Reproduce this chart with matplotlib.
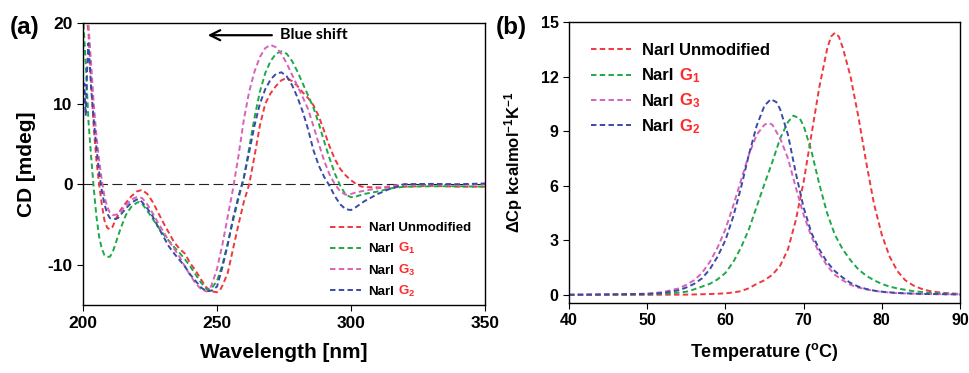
import matplotlib
matplotlib.use('Agg')
import matplotlib.pyplot as plt
from matplotlib.font_manager import FontProperties

plt.rcParams['font.family'] = ['Liberation Sans', 'DejaVu Sans']
plt.rcParams['font.weight'] = 'bold'
plt.rcParams['axes.unicode_minus'] = False
plt.rcParams['mathtext.fontset'] = 'custom'
plt.rcParams['mathtext.rm'] = 'Liberation Sans:bold'
plt.rcParams['mathtext.bf'] = 'Liberation Sans:bold'
plt.rcParams['mathtext.default'] = 'bf'

# (a) CD spectra
wl_red = [200, 201, 202, 203, 204, 205, 206, 207, 208, 209, 210, 211, 212, 214, 216, 218, 220, 222,
          224, 226, 228, 230, 232, 234, 236, 238, 240, 242, 244, 246, 248, 250, 251, 252, 254, 256,
          258, 260, 262, 264, 266, 268, 270, 272, 274, 276, 278, 280, 282, 284, 286, 288, 290, 292,
          294, 296, 298, 300, 302, 304, 306, 310, 315, 320, 330, 340, 350]
cd_red = [24, 22, 19, 13, 7, 3, 0, -2.5, -4.5, -5.4, -5.6, -5.3, -4.5, -3.2, -2.3, -1.5, -0.9, -0.7,
          -1.2, -2.2, -3.5, -4.8, -6.0, -7.2, -8.0, -8.6, -9.8, -10.7, -11.8, -12.8, -13.3, -13.4, -13.2,
          -12.6, -11.0, -8.0, -5.0, -2.2, 0.0, 3.5, 7.3, 10.0, 11.3, 12.2, 12.9, 13.2, 12.8, 12.2, 11.4,
          10.7, 9.8, 8.4, 6.6, 4.7, 3.1, 1.9, 1.1, 0.5, 0.0, -0.3, -0.35, -0.4, -0.4, -0.3, -0.2, -0.3, -0.3]

wl_green = [200, 201, 202, 203, 204, 205, 206, 207, 208, 209, 210, 211, 212, 214, 216, 218, 220, 221,
            222, 224, 226, 228, 230, 232, 234, 236, 238, 240, 242, 244, 246, 247, 248, 250, 252, 254,
            256, 258, 260, 262, 264, 266, 268, 270, 272, 274, 276, 278, 280, 282, 284, 286, 288, 290,
            292, 294, 296, 298, 300, 302, 305, 310, 315, 320, 330, 340, 350]
cd_green = [21, 15, 8, 3.5, -0.5, -4, -6.5, -8, -8.8, -9.0, -9.0, -8.5, -7.5, -5.5, -3.8, -2.8, -2.3,
            -2.2, -2.4, -3.3, -4.3, -5.3, -6.2, -7.0, -7.8, -8.5, -9.3, -10.2, -11.2, -12.2, -13.0, -13.1,
            -12.9, -12.0, -10.0, -7.3, -4.5, -1.8, 0.8, 4.5, 8.3, 11.5, 13.8, 15.3, 16.2, 16.5, 16.2, 15.3,
            14.0, 12.5, 11.0, 9.5, 7.5, 5.3, 3.2, 1.3, -0.2, -1.3, -1.6, -1.5, -1.2, -0.9, -0.5, -0.3,
            -0.25, -0.25, -0.3]

wl_pink = [200, 201, 202, 203, 204, 205, 206, 207, 208, 209, 210, 211, 212, 213, 214, 216, 218, 220,
           222, 224, 226, 228, 230, 232, 234, 236, 238, 240, 242, 244, 246, 247, 248, 250, 252, 254,
           256, 258, 260, 262, 264, 266, 268, 270, 272, 274, 276, 278, 280, 282, 284, 286, 288, 290,
           292, 294, 296, 298, 300, 302, 305, 310, 315, 320, 330, 340, 350]
cd_pink = [26, 24, 20, 15, 10, 6, 3, 0.5, -1.5, -2.8, -3.5, -3.8, -3.8, -3.7, -3.4, -2.6, -1.9, -1.6,
           -1.7, -2.5, -3.6, -4.8, -5.9, -7.0, -8.0, -9.0, -10.2, -11.3, -12.3, -13.0, -13.3, -13.2, -12.5,
           -10.5, -7.5, -4.0, -0.5, 3.5, 8.0, 11.5, 14.0, 15.8, 16.9, 17.3, 17.0, 16.2, 15.0, 13.6, 12.2,
           10.8, 9.3, 7.2, 5.0, 2.9, 1.2, 0.0, -0.9, -1.3, -1.2, -1.0, -0.8, -0.5, -0.2, 0.0, 0.0, -0.05, 0.0]

wl_blue = [200, 200.5, 201, 201.5, 202, 202.5, 203, 204, 205, 206, 207, 208, 209, 210, 212, 213, 214,
           216, 218, 220, 221, 222, 224, 226, 228, 230, 232, 234, 236, 238, 240, 242, 244, 246, 248,
           250, 252, 254, 256, 258, 260, 262, 264, 266, 268, 270, 272, 274, 276, 278, 280, 282, 284,
           286, 288, 290, 292, 294, 296, 298, 300, 302, 305, 310, 315, 320, 330, 340, 350]
cd_blue = [10, 12.5, 8.5, 14, 17.5, 15, 12, 8, 4.5, 1.5, -0.8, -2.5, -3.6, -4.2, -4.3, -4.2, -3.8,
           -3.0, -2.3, -1.9, -1.9, -2.2, -3.0, -4.0, -5.3, -6.5, -7.7, -8.6, -9.4, -10.2, -11.2, -12.0,
           -12.8, -13.3, -13.2, -12.7, -10.3, -7.5, -4.2, -1.5, 0.8, 4.0, 7.3, 10.0, 11.8, 13.0, 13.7,
           13.9, 13.4, 12.3, 10.8, 9.0, 6.8, 4.2, 2.3, 0.9, -0.2, -1.5, -2.5, -3.1, -3.2, -2.8, -2.1,
           -1.2, -0.5, 0.0, 0.05, 0.0, 0.1]

# (b) DSC thermograms
t_red = [40, 50, 55, 58, 60, 61, 62, 63, 64, 65, 66, 67, 68, 69, 70, 71, 72, 73, 73.5, 74, 74.5, 75,
         76, 77, 78, 79, 80, 81, 82, 83, 84, 85, 86, 87, 88, 89, 90]
cp_red = [0.0, 0.0, 0.01, 0.04, 0.08, 0.13, 0.2, 0.36, 0.6, 0.8, 1.1, 1.6, 2.5, 4.1, 6.2, 8.8, 11.4,
          13.5, 14.2, 14.4, 14.2, 13.6, 12.0, 9.8, 7.3, 5.0, 3.3, 2.1, 1.3, 0.8, 0.52, 0.34, 0.22, 0.15,
          0.1, 0.07, 0.05]

t_green = [40, 45, 50, 52, 54, 55, 56, 57, 58, 59, 60, 61, 62, 63, 64, 65, 66, 67, 68, 68.7, 69.5, 70,
           71, 72, 73, 74, 75, 76, 77, 78, 79, 80, 81, 82, 84, 86, 88, 90]
cp_green = [0.0, 0.01, 0.03, 0.06, 0.12, 0.17, 0.3, 0.45, 0.6, 0.85, 1.2, 1.8, 2.6, 3.6, 4.85, 6.1,
            7.3, 8.6, 9.5, 9.85, 9.7, 9.3, 7.9, 6.1, 4.5, 3.3, 2.5, 1.9, 1.4, 1.05, 0.8, 0.6, 0.45, 0.35,
            0.2, 0.12, 0.07, 0.04]

t_pink = [40, 45, 50, 52, 54, 55, 56, 57, 58, 59, 60, 61, 62, 63, 64, 65, 65.5, 66, 67, 68, 69, 70,
          71, 72, 73, 74, 75, 76, 77, 78, 79, 80, 82, 85, 90]
cp_pink = [0.0, 0.02, 0.06, 0.15, 0.35, 0.55, 0.8, 1.2, 1.8, 2.6, 3.6, 4.9, 6.3, 7.7, 8.8, 9.35, 9.45,
           9.35, 8.6, 7.5, 5.9, 4.4, 3.2, 2.3, 1.6, 1.1, 0.8, 0.55, 0.4, 0.3, 0.22, 0.16, 0.09, 0.05, 0.02]

t_blue = [40, 45, 50, 52, 54, 55, 56, 57, 58, 59, 60, 61, 62, 63, 64, 65, 65.8, 66.5, 67, 68, 69, 70,
          71, 72, 73, 74, 75, 76, 77, 78, 79, 80, 82, 85, 90]
cp_blue = [0.0, 0.02, 0.05, 0.1, 0.25, 0.4, 0.6, 0.9, 1.4, 2.1, 3.0, 4.3, 5.9, 7.7, 9.3, 10.4, 10.75,
           10.6, 10.2, 8.8, 6.7, 4.8, 3.4, 2.5, 1.8, 1.3, 0.95, 0.65, 0.45, 0.32, 0.23, 0.17, 0.1, 0.05,
           0.02]

names = ['NarI Unmodified', 'NarI', 'NarI', 'NarI']
subs = [None, r'$\mathbf{G}_\mathbf{1}$', r'$\mathbf{G}_\mathbf{3}$', r'$\mathbf{G}_\mathbf{2}$']
colors = ['#f0383c', '#1fa84a', '#d862b8', '#3a4aa8']
dash = (0, (2.8, 1.7))

fig = plt.figure(figsize=(9.7, 3.73), dpi=100)
axa = fig.add_axes([0.0856, 0.182, 0.4144, 0.756])
axb = fig.add_axes([0.5866, 0.1877, 0.4031, 0.7534])

spectra = [(wl_red, cd_red), (wl_green, cd_green), (wl_pink, cd_pink), (wl_blue, cd_blue)]
for (x, y), c, n in zip(spectra, colors, names):
    axa.plot(x, y, color=c, lw=1.4, linestyle=dash, label=n)
axa.axhline(0, color='#222222', lw=0.8, linestyle=(0, (9, 4)), zorder=0)
axa.set_xlim(200, 350)
axa.set_ylim(-15, 20)
axa.set_xticks([200, 250, 300, 350])
axa.set_yticks([-10, 0, 10, 20])
axa.tick_params(direction='out', length=4, labelsize=12.5)
axa.set_xlabel('Wavelength [nm]', fontsize=15, fontweight='bold', labelpad=9)
axa.set_ylabel('CD [mdeg]', fontsize=15, fontweight='bold', labelpad=8)
axa.annotate('', xy=(245.5, 18.5), xytext=(271.5, 18.5),
             arrowprops=dict(arrowstyle='->', lw=1.6, color='black', mutation_scale=18))
axa.text(273.5, 18.5, 'Blue shift', fontsize=11.5, fontweight='bold', family='Lato', va='center')
leg_a = axa.legend(loc='upper left', bbox_to_anchor=(0.615, 0.295), frameon=False, fontsize=9.5,
                   handlelength=2.3, handletextpad=0.6, labelspacing=0.68, borderpad=0, borderaxespad=0)

thermo = [(t_red, cp_red), (t_green, cp_green), (t_pink, cp_pink), (t_blue, cp_blue)]
for (x, y), c, n in zip(thermo, colors, names):
    axb.plot(x, y, color=c, lw=1.4, linestyle=dash, label=n)
axb.set_xlim(40, 90)
axb.set_ylim(-0.45, 15)
axb.set_xticks([40, 50, 60, 70, 80, 90])
axb.set_yticks([0, 3, 6, 9, 12, 15])
axb.tick_params(direction='out', length=4, labelsize=11.5)
axb.set_xlabel(r'Temperature ($^{\mathbf{o}}$C)', fontsize=13, fontweight='bold', labelpad=9)
axb.set_ylabel(r'$\Delta$Cp kcalmol$^{\mathbf{-1}}$K$^{\mathbf{-1}}$', fontsize=12,
               fontweight='bold', labelpad=11)
leg_b = axb.legend(loc='upper left', bbox_to_anchor=(0.055, 0.925), frameon=False, fontsize=12,
                   handlelength=2.4, handletextpad=0.7, labelspacing=0.62, borderpad=0, borderaxespad=0)

for ax in (axa, axb):
    for s in ax.spines.values():
        s.set_linewidth(1.0)

fig.text(0.010, 0.925, '(a)', fontsize=17.5, fontweight='bold', va='center')
fig.text(0.511, 0.925, '(b)', fontsize=17.5, fontweight='bold', va='center')

# red G subscripts after the black "NarI", on the same baseline
fig.canvas.draw()
rend = fig.canvas.get_renderer()
for leg, fs in ((leg_a, 9.5), (leg_b, 12)):
    for t, s in zip(leg.get_texts(), subs):
        if s is None:
            continue
        bb = t.get_window_extent(rend)
        _, _, d = rend.get_text_width_height_descent('lp', t.get_fontproperties(), ismath=False)
        x0, y0 = fig.transFigure.inverted().transform((bb.x1 + fs * 0.35, bb.y0 + d))
        fig.text(x0, y0, s, fontsize=fs, color='#ff2a2a', va='baseline', ha='left')

fig.savefig('out.png', dpi=100)
